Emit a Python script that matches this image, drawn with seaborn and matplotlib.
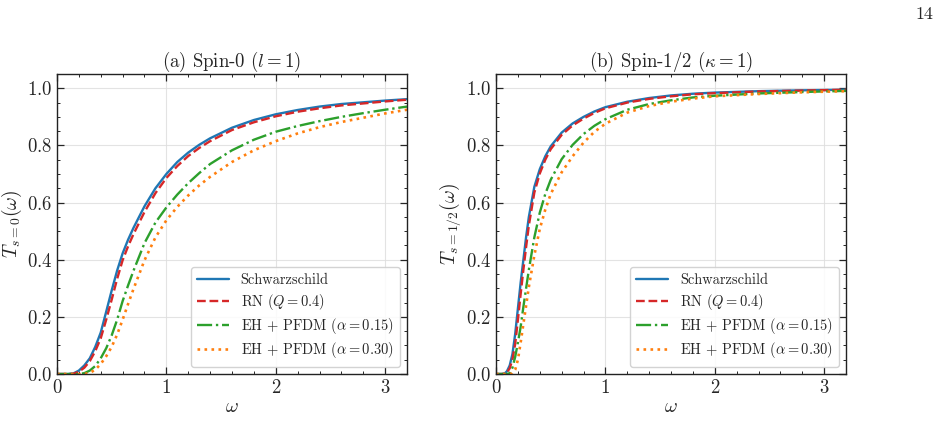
import numpy as np
import pandas as pd
import matplotlib
matplotlib.use('Agg')
import matplotlib.pyplot as plt
import seaborn as sns
from matplotlib.ticker import MultipleLocator

# frequency grids
w_a = [0, 0.1, 0.15, 0.2, 0.25, 0.3, 0.35, 0.4, 0.45, 0.5, 0.55, 0.6, 0.65, 0.7, 0.8, 0.9,
       1.0, 1.1, 1.2, 1.3, 1.4, 1.6, 1.8, 2.0, 2.2, 2.4, 2.6, 2.8, 3.0, 3.2]
schw_a = [0, 0, 0.002, 0.012, 0.03, 0.055, 0.095, 0.145, 0.218, 0.292, 0.362, 0.422, 0.47, 0.512,
          0.587, 0.65, 0.70, 0.742, 0.775, 0.802, 0.825, 0.862, 0.889, 0.909, 0.924, 0.936, 0.945,
          0.951, 0.957, 0.962]
rn_a = [0, 0, 0.001, 0.008, 0.022, 0.045, 0.08, 0.125, 0.19, 0.26, 0.333, 0.398, 0.447, 0.49,
        0.567, 0.633, 0.686, 0.728, 0.763, 0.791, 0.815, 0.854, 0.881, 0.902, 0.918, 0.93, 0.94,
        0.947, 0.954, 0.96]
pfdm15_a = [0, 0, 0, 0, 0.003, 0.012, 0.028, 0.055, 0.09, 0.135, 0.19, 0.255, 0.31, 0.362,
            0.458, 0.53, 0.583, 0.628, 0.668, 0.703, 0.735, 0.783, 0.82, 0.848, 0.868, 0.885, 0.9,
            0.913, 0.925, 0.936]
pfdm30_a = [0, 0, 0, 0, 0, 0.004, 0.015, 0.035, 0.062, 0.095, 0.138, 0.19, 0.245, 0.298,
            0.398, 0.478, 0.538, 0.585, 0.625, 0.66, 0.69, 0.742, 0.783, 0.815, 0.842, 0.864, 0.882,
            0.897, 0.912, 0.925]

w_b = [0, 0.05, 0.08, 0.1, 0.125, 0.15, 0.175, 0.2, 0.225, 0.25, 0.275, 0.3, 0.35, 0.4, 0.45,
       0.5, 0.6, 0.7, 0.8, 0.9, 1.0, 1.2, 1.4, 1.6, 1.8, 2.0, 2.4, 2.8, 3.2]
schw_b = [0, 0, 0.002, 0.01, 0.03, 0.07, 0.14, 0.23, 0.32, 0.40, 0.48, 0.55, 0.655, 0.717, 0.762,
          0.797, 0.845, 0.877, 0.90, 0.919, 0.934, 0.953, 0.966, 0.975, 0.981, 0.985, 0.99, 0.993, 0.995]
rn_b = [0, 0, 0.001, 0.006, 0.02, 0.05, 0.105, 0.19, 0.28, 0.365, 0.445, 0.52, 0.635, 0.702, 0.75,
        0.787, 0.837, 0.87, 0.894, 0.914, 0.93, 0.95, 0.963, 0.972, 0.979, 0.983, 0.989, 0.992, 0.995]
pfdm15_b = [0, 0, 0, 0, 0.003, 0.022, 0.06, 0.11, 0.165, 0.235, 0.30, 0.365, 0.478, 0.565, 0.63,
            0.68, 0.752, 0.802, 0.84, 0.869, 0.892, 0.925, 0.945, 0.958, 0.968, 0.974, 0.982, 0.987, 0.991]
pfdm30_b = [0, 0, 0, 0, 0, 0.002, 0.015, 0.05, 0.11, 0.175, 0.24, 0.305, 0.415, 0.508, 0.575,
            0.63, 0.706, 0.762, 0.81, 0.848, 0.876, 0.915, 0.938, 0.953, 0.964, 0.972, 0.98, 0.986, 0.99]

labels = ['Schwarzschild', r'RN ($Q=0.4$)', r'EH $+$ PFDM ($\alpha=0.15$)', r'EH $+$ PFDM ($\alpha=0.30$)']
colors = ['#1f77b4', '#d62728', '#2ca02c', '#ff7f0e']
styles = ['-', '--', '-.', ':']

sns.set_style('ticks')
plt.rcParams['font.family'] = 'serif'
plt.rcParams['font.serif'] = ['cmr10', 'DejaVu Serif']
plt.rcParams['mathtext.fontset'] = 'cm'
plt.rcParams['axes.formatter.use_mathtext'] = True

fig = plt.figure(figsize=(9.4, 4.21), dpi=100)
ax_a = fig.add_axes([0.0606, 0.1116, 0.3724, 0.7126])
ax_b = fig.add_axes([0.5277, 0.1116, 0.3724, 0.7126])

panels = [
    (ax_a, w_a, [schw_a, rn_a, pfdm15_a, pfdm30_a], r'(a) Spin-0 ($l=1$)', r'$T_{s=0}(\omega)$'),
    (ax_b, w_b, [schw_b, rn_b, pfdm15_b, pfdm30_b], r'(b) Spin-1/2 ($\kappa=1$)', r'$T_{s=1/2}(\omega)$'),
]

for ax, w, series, title, ylab in panels:
    for vals, lab, c, ls in zip(series, labels, colors, styles):
        lw = 1.9 if ls == ':' else 1.7
        sns.lineplot(x=w, y=vals, ax=ax, color=c, linestyle=ls, linewidth=lw, label=lab)
    ax.set_xlim(0, 3.2)
    ax.set_ylim(0, 1.05)
    ax.xaxis.set_major_locator(MultipleLocator(1))
    ax.xaxis.set_minor_locator(MultipleLocator(0.2))
    ax.yaxis.set_major_locator(MultipleLocator(0.2))
    ax.yaxis.set_minor_locator(MultipleLocator(0.05))
    ax.tick_params(which='both', direction='in', top=True, right=True, labelsize=13.5)
    ax.tick_params(which='major', length=5, width=0.9)
    ax.tick_params(which='minor', length=2.5, width=0.7)
    ax.grid(True, which='major', color='#dddddd', linewidth=0.8, alpha=0.8)
    for s in ax.spines.values():
        s.set_linewidth(1.0)
        s.set_color('#222222')
    ax.set_title(title, fontsize=13.5, pad=3)
    ax.set_xlabel(r'$\omega$', fontsize=14, labelpad=1)
    ax.set_ylabel(ylab, fontsize=14, labelpad=2)
    ax.legend(loc='lower right', fontsize=10.4, frameon=True, framealpha=0.85,
              edgecolor='#cccccc', handlelength=2.2, borderpad=0.45, labelspacing=0.3)

fig.text(0.993, 0.967, '14', fontsize=13, ha='right', va='center')

plt.savefig('out.png', dpi=100)
